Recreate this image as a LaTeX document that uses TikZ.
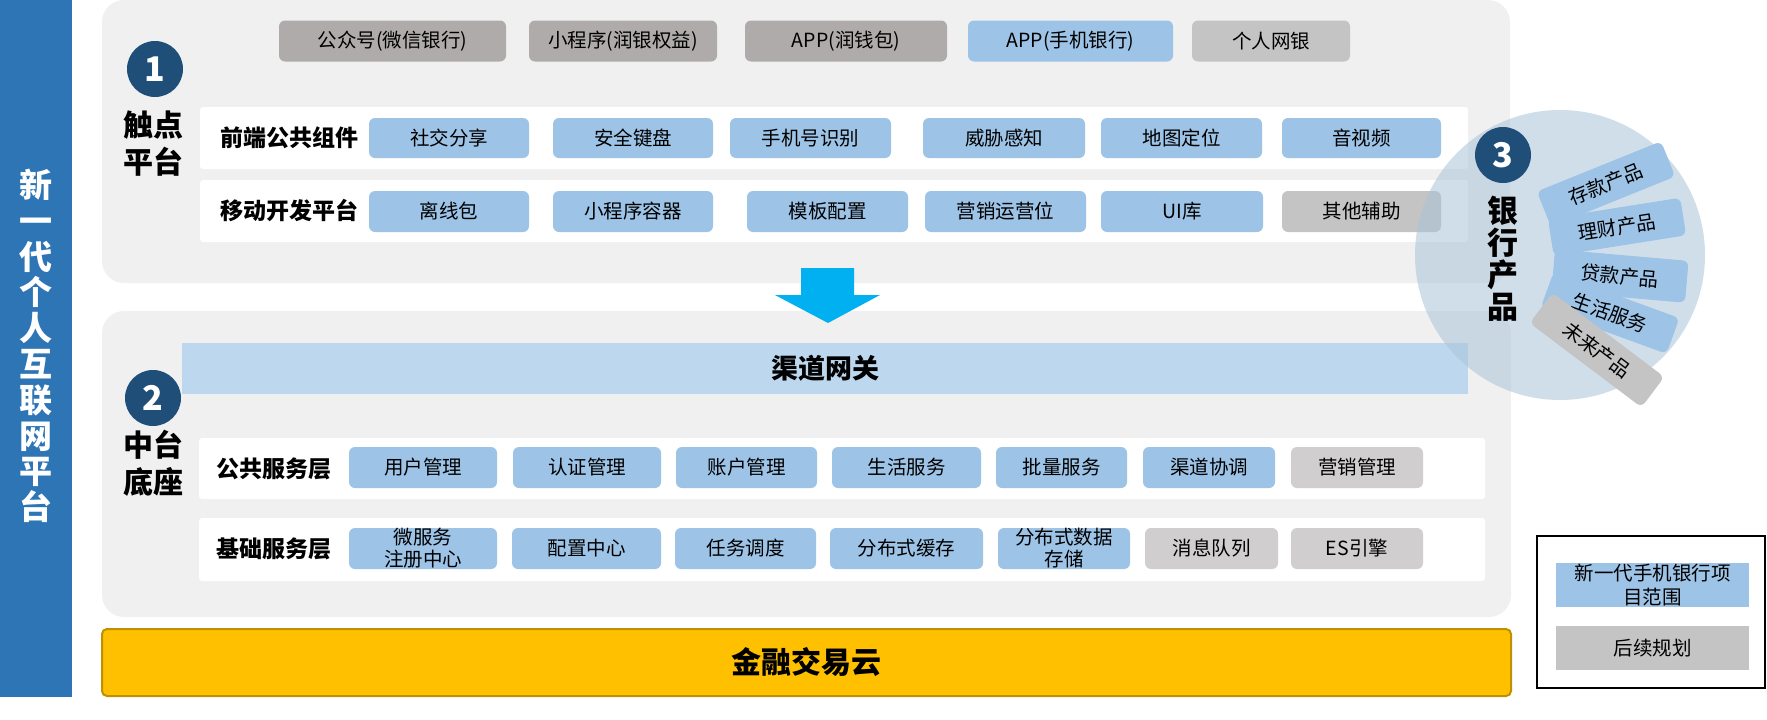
\documentclass[tikz,border=0pt]{standalone}
\usepackage{fontspec}
\setmainfont{Noto Sans CJK SC}
\definecolor{barblue}{HTML}{2E75B6}
\definecolor{panel}{HTML}{F0F0F0}
\definecolor{bblue}{HTML}{9DC3E6}
\definecolor{dgray}{HTML}{AFABAB}
\definecolor{lgray}{HTML}{C4C4C4}
\definecolor{mgray}{HTML}{D0CECE}
\definecolor{navy}{HTML}{1F4E79}
\definecolor{gw}{HTML}{BDD7EE}
\definecolor{gold}{HTML}{FFC000}
\definecolor{goldline}{HTML}{BF9000}
\definecolor{cyanarrow}{HTML}{00B0F0}
\definecolor{fanbg}{RGB}{170,195,215}
\begin{document}
\begin{tikzpicture}[x=1pt,y=-1pt,
  every node/.style={inner sep=0pt, outer sep=0pt},
  bx/.style={rectangle, rounded corners=6pt, minimum height=41pt, font=\fontsize{19.5}{22}\selectfont, text=black, align=center},
  blu/.style={bx, fill=bblue},
  dg/.style={bx, fill=dgray},
  lg/.style={bx, fill=lgray},
  mg/.style={bx, fill=mgray},
  rowbox/.style={rectangle, fill=white, rounded corners=3pt},
  panelbox/.style={rectangle, fill=panel, rounded corners=22pt},
  lbl/.style={font=\bfseries\fontsize{23}{26}\selectfont},
  big/.style={font=\bfseries\fontsize{30}{37}\selectfont, align=center},
  num/.style={circle, fill=navy, minimum size=56pt, text=white, font=\bfseries\fontsize{34}{34}\selectfont},
  fan/.style={rectangle, rounded corners=6pt, minimum width=134pt, minimum height=38pt, font=\fontsize{19.5}{22}\selectfont},
]
\useasboundingbox (0,0) rectangle (1767,720);

% left title bar
\node[rectangle, fill=barblue, minimum width=72pt, minimum height=697pt] (bar) at (36,348.5) {};
\node[font=\bfseries\fontsize{33}{35.8}\selectfont, text=white, align=center] (title) at (36,346) {新\\一\\代\\个\\人\\互\\联\\网\\平\\台};

% panels
\node[panelbox, minimum width=1408pt, minimum height=283pt] (toppanel) at (806,141.5) {};
\node[panelbox, minimum width=1409pt, minimum height=306pt] (midpanel) at (806.5,464) {};

% section 1
\node[num] (n1) at (155,69) {1};
\node[big] (t1) at (153,143.5) {触点\\平台};

\node[dg, minimum width=227pt] (ch1) at (392.5,41) {公众号(微信银行)};
\node[dg, minimum width=188pt] (ch2) at (623,41) {小程序(润银权益)};
\node[dg, minimum width=202pt] (ch3) at (846,41) {APP(润钱包)};
\node[blu, minimum width=205pt] (ch4) at (1070.5,41) {APP(手机银行)};
\node[lg, minimum width=158pt] (ch5) at (1271,41) {个人网银};

\node[rowbox, minimum width=1268pt, minimum height=62pt] (frow) at (834,138) {};
\node[lbl] (flbl) at (289,138) {前端公共组件};
\node[blu, minimum width=160pt, minimum height=40pt] (f1) at (449,138) {社交分享};
\node[blu, minimum width=160pt, minimum height=40pt] (f2) at (633,138) {安全键盘};
\node[blu, minimum width=161pt, minimum height=40pt] (f3) at (810.5,138) {手机号识别};
\node[blu, minimum width=162pt, minimum height=40pt] (f4) at (1004,138) {威胁感知};
\node[blu, minimum width=161pt, minimum height=40pt] (f5) at (1181.5,138) {地图定位};
\node[blu, minimum width=159pt, minimum height=40pt] (f6) at (1361.5,138) {音视频};

\node[rowbox, minimum width=1268pt, minimum height=62pt] (mrow) at (834,211) {};
\node[lbl] (mlbl) at (289,211) {移动开发平台};
\node[blu, minimum width=160pt] (m1) at (449,211.5) {离线包};
\node[blu, minimum width=160pt] (m2) at (633,211.5) {小程序容器};
\node[blu, minimum width=161pt] (m3) at (827.5,211.5) {模板配置};
\node[blu, minimum width=161pt] (m4) at (1005.5,211.5) {营销运营位};
\node[blu, minimum width=162pt] (m5) at (1182,211.5) {UI库};
\node[lg, minimum width=159pt] (m6) at (1361.5,211.5) {其他辅助};

% arrow
\fill[cyanarrow] (801,268) -- (854,268) -- (854,295) -- (880,295) -- (828,323) -- (775,295) -- (801,295) -- cycle;

% section 2
\node[num] (n2) at (153,398) {2};
\node[big] (t2) at (153,463.5) {中台\\底座};
\node[rectangle, fill=gw, minimum width=1286pt, minimum height=51pt, font=\bfseries\fontsize{27}{27}\selectfont] (gate) at (825,368.5) {渠道网关};

\node[rowbox, minimum width=1286pt, minimum height=61pt] (prow) at (842,468.5) {};
\node[lbl] (plbl) at (274,469) {公共服务层};
\node[blu, minimum width=148pt] (p1) at (423,467.5) {用户管理};
\node[blu, minimum width=148pt] (p2) at (587,467.5) {认证管理};
\node[blu, minimum width=141pt] (p3) at (746.5,467.5) {账户管理};
\node[blu, minimum width=149pt] (p4) at (906.5,467.5) {生活服务};
\node[blu, minimum width=131pt] (p5) at (1061.5,467.5) {批量服务};
\node[blu, minimum width=132pt] (p6) at (1209,467.5) {渠道协调};
\node[mg, minimum width=132pt] (p7) at (1357,467.5) {营销管理};

\node[rowbox, minimum width=1286pt, minimum height=63pt] (brow) at (842,549.5) {};
\node[lbl] (blbl) at (274,549) {基础服务层};
\node[blu, minimum width=148pt] (b1) at (423,548.5) {微服务\\注册中心};
\node[blu, minimum width=149pt] (b2) at (586.5,548.5) {配置中心};
\node[blu, minimum width=141pt] (b3) at (745.5,548.5) {任务调度};
\node[blu, minimum width=153pt] (b4) at (906.5,548.5) {分布式缓存};
\node[blu, minimum width=132pt] (b5) at (1064,548.5) {分布式数据\\存储};
\node[mg, minimum width=133pt] (b6) at (1211.5,548.5) {消息队列};
\node[mg, minimum width=132pt] (b7) at (1357,548.5) {ES引擎};

% gold bar
\node[draw=goldline, line width=2pt, fill=gold, rounded corners=5pt, minimum width=1409pt, minimum height=67pt, font=\bfseries\fontsize{30}{30}\selectfont] (cloud) at (806.5,662.5) {金融交易云};

% section 3
\node[circle, fill=fanbg, fill opacity=0.55, minimum size=290pt] (disc) at (1560,255) {};
\node[num] (n3) at (1503,155) {3};
\node[font=\bfseries\fontsize{31}{32}\selectfont, align=center] (bp) at (1503,258.5) {银\\行\\产\\品};
\node[fan, fill=bblue, rotate=22] (fp1) at (1606,184) {存款产品};
\node[fan, fill=bblue, rotate=9] (fp2) at (1617,227) {理财产品};
\node[fan, fill=bblue, rotate=-5, minimum height=42pt] (fp3) at (1620,276) {贷款产品};
\node[fan, fill=bblue, rotate=-20] (fp4) at (1610,313) {生活服务};
\node[fan, fill=lgray, rotate=-37, minimum width=140pt] (fp5) at (1597,350) {未来产品};

% legend
\node[draw=black, line width=2.5pt, minimum width=228pt, minimum height=152pt] (legend) at (1651,612) {};
\node[rectangle, fill=bblue, minimum width=193pt, minimum height=44pt, align=center, font=\fontsize{19.5}{24}\selectfont] (lg1) at (1652.5,585) {新一代手机银行项\\目范围};
\node[rectangle, fill=lgray, minimum width=193pt, minimum height=44pt, font=\fontsize{19.5}{24}\selectfont] (lg2) at (1652.5,648) {后续规划};
\end{tikzpicture}
\end{document}
